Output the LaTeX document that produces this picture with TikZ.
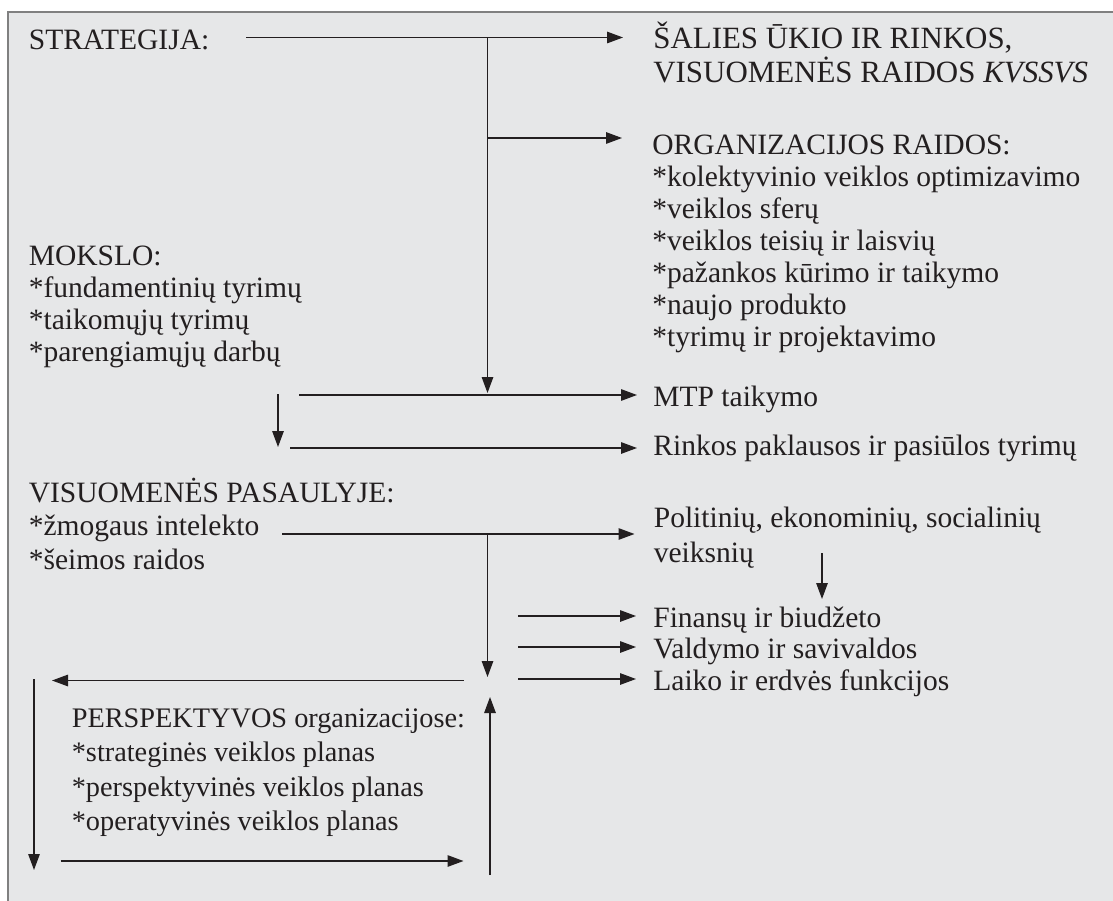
\documentclass[tikz,border=0pt]{standalone}
\usepackage{fontspec}
\setmainfont{Liberation Serif}
\usetikzlibrary{arrows.meta,calc}
\definecolor{fonas}{HTML}{E6E7E8}
\definecolor{remas}{HTML}{808080}
\definecolor{juoda}{HTML}{231F20}
\tikzset{
  tekstas/.style={anchor=base west, inner sep=0pt, align=left, text=juoda,
    font=\fontsize{16.8}{18.2}\selectfont},
  rodykle/.style={draw=juoda, line width=0.75pt,
    -{Triangle[length=0.32cm,width=0.23cm]}}
}
\begin{document}
\begin{tikzpicture}
  \useasboundingbox (0,0) rectangle (22.26,-18.02);
  \fill[fonas] (0.16,-0.24) rectangle (22.26,-18.02);
  \draw[remas, line width=1.2pt] (0.16,-18.02) -- (0.16,-0.24) -- (22.26,-0.24);

  % multi-line nodes: base = last line
  \node[tekstas] (Strategija) at (0.57,-1.00) {STRATEGIJA:};
  \node[tekstas, font=\fontsize{17.6}{19.6}\selectfont] (Salies) at (13.06,-1.66)
    {ŠALIES ŪKIO IR RINKOS,\\VISUOMENĖS RAIDOS \textit{KVSSVS}};
  \node[tekstas] (Organizacijos) at (13.04,-6.92)
    {ORGANIZACIJOS RAIDOS:\\*kolektyvinio veiklos optimizavimo\\*veiklos sferų\\*veiklos teisių ir laisvių\\*pažankos kūrimo ir taikymo\\*naujo produkto\\*tyrimų ir projektavimo};
  \node[tekstas] (Mtp) at (13.06,-8.12) {MTP taikymo};
  \node[tekstas] (Rinkos) at (13.06,-9.10) {Rinkos paklausos ir pasiūlos tyrimų};
  \node[tekstas] (Mokslo) at (0.57,-7.22)
    {MOKSLO:\\*fundamentinių tyrimų\\*taikomųjų tyrimų\\*parengiamųjų darbų};
  \node[tekstas, font=\fontsize{16.8}{19.0}\selectfont] (Visuomenes) at (0.57,-11.38)
    {VISUOMENĖS PASAULYJE:\\*žmogaus intelekto\\*šeimos raidos};
  \node[tekstas, font=\fontsize{16.8}{19.9}\selectfont] (Politiniu) at (13.07,-11.24)
    {Politinių, ekonominių, socialinių\\veiksnių};
  \node[tekstas] (Finansu) at (13.06,-12.54) {Finansų ir biudžeto};
  \node[tekstas] (Valdymo) at (13.06,-13.16) {Valdymo ir savivaldos};
  \node[tekstas] (Laiko) at (13.06,-13.80) {Laiko ir erdvės funkcijos};
  \node[tekstas, font=\fontsize{16.1}{19.6}\selectfont] (Perspektyvos) at (1.43,-16.61)
    {PERSPEKTYVOS organizacijose:\\*strateginės veiklos planas\\*perspektyvinės veiklos planas\\*operatyvinės veiklos planas};

  \coordinate (StratPradzia) at (4.92,-0.75);
  \coordinate (Saka1) at (9.75,-0.75);
  \coordinate (Saka2) at (9.75,-2.76);
  \coordinate (MtpPradzia) at (5.98,-7.90);
  \coordinate (MoksloVirsus) at (5.56,-7.88);
  \coordinate (MoksloApacia) at (5.56,-8.94);
  \coordinate (RinkosPradzia) at (5.80,-8.96);
  \coordinate (ZmogausPradzia) at (5.64,-10.68);
  \coordinate (Saka3) at (9.75,-10.68);
  \coordinate (Saka4) at (9.75,-13.54);
  \coordinate (VeiksniuVirsus) at (16.44,-11.06);
  \coordinate (VeiksniuApacia) at (16.44,-11.98);
  \coordinate (FinansuPradzia) at (10.36,-12.32);
  \coordinate (ValdymoPradzia) at (10.36,-12.94);
  \coordinate (LaikoPradzia) at (10.36,-13.58);
  \coordinate (RatasA) at (9.27,-13.61);
  \coordinate (RatasB) at (1.04,-13.61);
  \coordinate (RatasC) at (0.68,-13.58);
  \coordinate (RatasD) at (0.68,-17.40);
  \coordinate (RatasE) at (1.21,-17.22);
  \coordinate (RatasF) at (9.27,-17.22);
  \coordinate (RatasG) at (9.80,-17.50);
  \coordinate (RatasH) at (9.80,-13.94);

  \draw[rodykle, shorten >=0.6cm] (StratPradzia) -- (StratPradzia -| Salies.west);
  \draw[rodykle, shorten >=0.6cm] (Saka2) -- (Saka2 -| Organizacijos.west);
  \draw[rodykle, shorten >=0.04cm] (Saka1) -- (Saka1 |- MtpPradzia);
  \draw[rodykle, shorten >=0.32cm] (MtpPradzia) -- (MtpPradzia -| Mtp.west);
  \draw[rodykle] (MoksloVirsus) -- (MoksloApacia);
  \draw[rodykle, shorten >=0.32cm] (RinkosPradzia) -- (RinkosPradzia -| Rinkos.west);
  \draw[rodykle, shorten >=0.38cm] (ZmogausPradzia) -- (ZmogausPradzia -| Politiniu.west);
  \draw[rodykle] (Saka3) -- (Saka4);
  \draw[rodykle] (VeiksniuVirsus) -- (VeiksniuApacia);
  \draw[rodykle, shorten >=0.34cm] (FinansuPradzia) -- (FinansuPradzia -| Finansu.west);
  \draw[rodykle, shorten >=0.34cm] (ValdymoPradzia) -- (ValdymoPradzia -| Valdymo.west);
  \draw[rodykle, shorten >=0.34cm] (LaikoPradzia) -- (LaikoPradzia -| Laiko.west);
  \draw[rodykle] (RatasA) -- (RatasB);
  \draw[rodykle] (RatasC) -- (RatasD);
  \draw[rodykle] (RatasE) -- (RatasF);
  \draw[rodykle] (RatasG) -- (RatasH);

\end{tikzpicture}
\end{document}
